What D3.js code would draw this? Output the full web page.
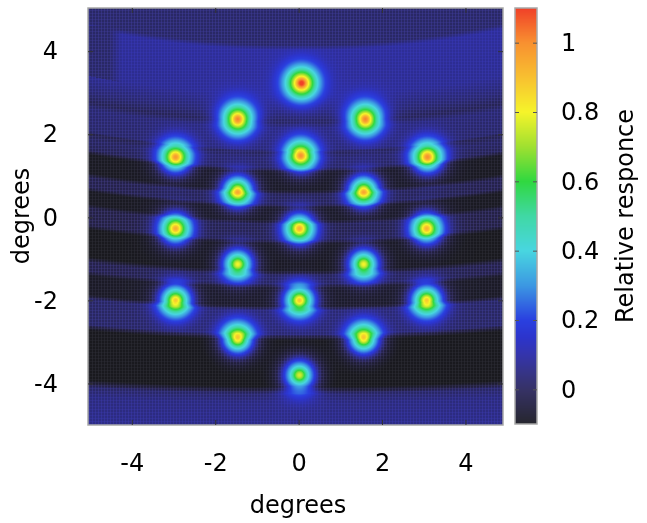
<!DOCTYPE html>
<html>
<head>
<meta charset="utf-8">
<script src="https://cdn.jsdelivr.net/npm/d3@7"></script>
<style>
  body { margin: 0; background: #fff; }
  #wrap { position: relative; width: 647px; height: 523px; }
  #wrap canvas, #wrap svg { position: absolute; left: 0; top: 0; }
  text { font-family: "DejaVu Sans", sans-serif; fill: #000; }
</style>
</head>
<body>
<div id="wrap"></div>
<script>
// Beam centres (degrees) and their peak response
var beamX    = [0.07, -1.46, 1.60, -2.95, 0.05, 3.09, -1.46, 1.56, -2.95, 0.02, 3.07, -1.46, 1.56, -2.95, 0.02, 3.07, -1.46, 1.56, 0.02];
var beamY    = [3.23, 2.36, 2.36, 1.45, 1.49, 1.45, 0.63, 0.63, -0.27, -0.27, -0.27, -1.13, -1.13, -2.00, -2.00, -2.00, -2.92, -2.92, -3.80];
var beamPeak = [0.98, 0.94, 0.94, 0.90, 0.92, 0.92, 0.92, 0.92, 0.89, 0.88, 0.88, 0.85, 0.85, 0.91, 0.91, 0.91, 0.91, 0.91, 0.82];
var coreFrac = 0.27, coreSigma = 0.10, mainSigma = 0.28;
var haloPeak = 0.05, haloSigma = 0.45;

// Background sidelobe level along the (curved) elevation
var bgElev  = [5.04, 4.14, 4.02, 2.94, 2.53, 2.29, 2.14, 1.61, 1.57, 1.42, 1.18, 1.08, 0.65, 0.55, 0.31, 0.22, -0.07, -0.17, -0.55, -0.65, -1.28, -1.40, -1.61, -1.71, -2.14, -2.24, -2.82, -2.96, -4.07, -4.24, -4.46, -5.01];
var bgLevel = [0.045, 0.045, 0.10, 0.09, 0.055, 0.02, 0.055, 0.045, 0.01, 0.035, 0.02, -0.09, -0.09, 0.01, 0.01, -0.09, -0.09, 0.0, 0.0, -0.1, -0.1, 0.01, 0.01, -0.08, -0.08, 0.04, 0.04, -0.11, -0.11, 0.04, 0.07, 0.08];
// bowing of the sidelobe bands
var curveElev = [5, 0, -5];
var curveK    = [0.022, 0.015, 0.004];

// Colour bar
var cbStops  = [-0.1, 0.0, 0.05, 0.1, 0.15, 0.2, 0.3, 0.4, 0.5, 0.6, 0.7, 0.8, 0.9, 1.0, 1.1];
var cbColors = ["#26262e", "#363266", "#363488", "#3434ac", "#2c34cc", "#2a40e0", "#3c98e2", "#48d6e0", "#40d8a4", "#30d840", "#a0e030", "#f6f42a", "#f8c030", "#f89030", "#f04028"];
var cbTicks  = [0, 0.2, 0.4, 0.6, 0.8, 1];
var axisTicks = [-4, -2, 0, 2, 4];

var W = 647, H = 523;
var plot = { left: 88, right: 503, top: 8, bottom: 425 };
var cbar = { left: 515, right: 537, top: 8, bottom: 424 };

var x = d3.scaleLinear().domain([-5.05, 4.9]).range([plot.left, plot.right]);
var y = d3.scaleLinear().domain([-5.0, 5.04]).range([plot.bottom, plot.top]);
var c = d3.scaleLinear().domain([-0.1, 1.1]).range([cbar.bottom, cbar.top]);
var color = d3.scaleLinear().domain(cbStops).range(cbColors).clamp(true);
var bg = d3.scaleLinear().domain(bgElev).range(bgLevel).clamp(true);
var bow = d3.scaleLinear().domain(curveElev).range(curveK).clamp(true);

function response(dx, dy) {
  var k = bow(dy);
  var e = dy - k * dx * dx;
  var v = bg(e);
  // the upper bright patch does not reach the far left edge
  if (e > 2.9 && dy < 4.6) {
    var t = Math.max(0, Math.min(1, (dx + 4.55) / 0.3));
    v = 0.045 + (v - 0.045) * t;
  }
  for (var i = 0; i < beamX.length; i++) {
    var r2 = (dx - beamX[i]) * (dx - beamX[i]) + (dy - beamY[i]) * (dy - beamY[i]);
    v += beamPeak[i] * (coreFrac * Math.exp(-r2 / (2 * coreSigma * coreSigma)) +
                        (1 - coreFrac) * Math.exp(-r2 / (2 * mainSigma * mainSigma)));
    v += haloPeak * Math.exp(-r2 / (2 * haloSigma * haloSigma));
  }
  return v;
}

var wrap = d3.select("#wrap");

// raster
var canvas = wrap.append("canvas").attr("width", W).attr("height", H);
var ctx = canvas.node().getContext("2d");
var pw = plot.right - plot.left, ph = plot.bottom - plot.top;
var img = ctx.createImageData(pw, ph);
for (var py = 0; py < ph; py++) {
  for (var px = 0; px < pw; px++) {
    var val = response(x.invert(plot.left + px + 0.5), y.invert(plot.top + py + 0.5));
    var col = d3.rgb(color(val));
    // mesh texture of the original render: dim cells, brighter grid lines
    var f = 0.66;
    if (px % 3 === 1) f += 0.28;
    if (py % 3 === 2) f += 0.2;
    f = Math.min(f, 1.05);
    var w = Math.max(0, Math.min(1, val / 0.15));
    f = f + (1 - f) * w;
    var o = (py * pw + px) * 4;
    img.data[o] = Math.min(255, col.r * f);
    img.data[o + 1] = Math.min(255, col.g * f);
    img.data[o + 2] = Math.min(255, col.b * f);
    img.data[o + 3] = 255;
  }
}
ctx.putImageData(img, plot.left, plot.top);

// colour bar
var cbw = cbar.right - cbar.left, cbh = cbar.bottom - cbar.top;
var cbImg = ctx.createImageData(cbw, cbh);
for (var j = 0; j < cbh; j++) {
  var cc = d3.rgb(color(c.invert(cbar.top + j + 0.5)));
  for (var i = 0; i < cbw; i++) {
    var o2 = (j * cbw + i) * 4;
    cbImg.data[o2] = cc.r; cbImg.data[o2 + 1] = cc.g; cbImg.data[o2 + 2] = cc.b; cbImg.data[o2 + 3] = 255;
  }
}
ctx.putImageData(cbImg, cbar.left, cbar.top);

var svg = wrap.append("svg").attr("width", W).attr("height", H);

// frames
svg.append("rect").attr("x", plot.left).attr("y", plot.top)
  .attr("width", pw).attr("height", ph)
  .attr("fill", "none").attr("stroke", "#a8a8a8").attr("stroke-width", 1.5);
svg.append("rect").attr("x", cbar.left).attr("y", cbar.top)
  .attr("width", cbw).attr("height", cbh)
  .attr("fill", "none").attr("stroke", "#a8a8a8").attr("stroke-width", 1.5);

var fmt = d => String(d);  // plain hyphen minus like the original

// axes (inward ticks on all sides)
svg.append("g").attr("transform", "translate(0," + plot.bottom + ")")
  .call(d3.axisBottom(x).tickValues(axisTicks).tickSizeInner(-5).tickSizeOuter(0).tickPadding(29).tickFormat(fmt))
  .call(g => g.select(".domain").remove())
  .call(g => g.selectAll("line").attr("stroke", "#333"))
  .call(g => g.selectAll("text").attr("font-size", 24).attr("font-family", "DejaVu Sans, sans-serif"));
svg.append("g").attr("transform", "translate(0," + plot.top + ")")
  .call(d3.axisTop(x).tickValues(axisTicks).tickSizeInner(-5).tickSizeOuter(0).tickFormat(""))
  .call(g => g.select(".domain").remove())
  .call(g => g.selectAll("line").attr("stroke", "#333"));
svg.append("g").attr("transform", "translate(" + plot.left + ",0)")
  .call(d3.axisLeft(y).tickValues(axisTicks).tickSizeInner(-5).tickSizeOuter(0).tickPadding(30).tickFormat(fmt))
  .call(g => g.select(".domain").remove())
  .call(g => g.selectAll("line").attr("stroke", "#333"))
  .call(g => g.selectAll("text").attr("font-size", 24).attr("font-family", "DejaVu Sans, sans-serif"));
svg.append("g").attr("transform", "translate(" + plot.right + ",0)")
  .call(d3.axisRight(y).tickValues(axisTicks).tickSizeInner(-5).tickSizeOuter(0).tickFormat(""))
  .call(g => g.select(".domain").remove())
  .call(g => g.selectAll("line").attr("stroke", "#333"));

// colour bar axis
svg.append("g").attr("transform", "translate(" + cbar.right + ",0)")
  .call(d3.axisRight(c).tickValues(cbTicks).tickSizeInner(-4).tickSizeOuter(0).tickPadding(24).tickFormat(fmt))
  .call(g => g.select(".domain").remove())
  .call(g => g.selectAll("line").attr("stroke", "#555"))
  .call(g => g.selectAll("text").attr("font-size", 24).attr("font-family", "DejaVu Sans, sans-serif"));
svg.append("g").attr("transform", "translate(" + cbar.left + ",0)")
  .call(d3.axisLeft(c).tickValues(cbTicks).tickSizeInner(-4).tickSizeOuter(0).tickFormat(""))
  .call(g => g.select(".domain").remove())
  .call(g => g.selectAll("line").attr("stroke", "#555"));

// axis titles
svg.append("text").attr("x", 298).attr("y", 513)
  .attr("text-anchor", "middle").attr("font-size", 24).text("degrees");
svg.append("text").attr("transform", "translate(29,216) rotate(-90)")
  .attr("text-anchor", "middle").attr("font-size", 24).text("degrees");
svg.append("text").attr("transform", "translate(633,216) rotate(-90)")
  .attr("text-anchor", "middle").attr("font-size", 24).text("Relative responce");
</script>
</body>
</html>
